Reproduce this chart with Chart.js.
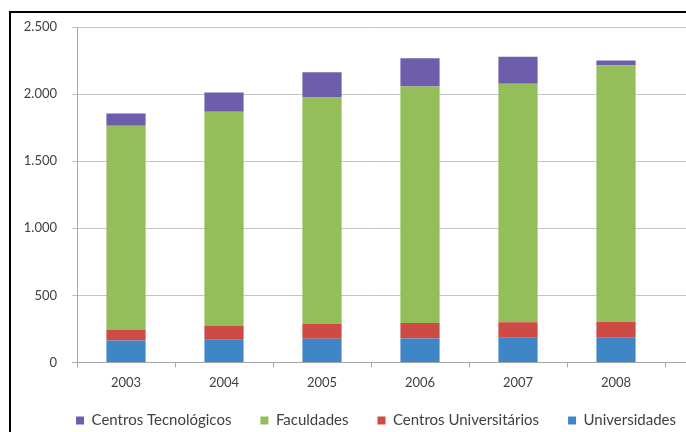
<!DOCTYPE html>
<html><head><meta charset="utf-8">
<script src="https://cdn.jsdelivr.net/npm/chart.js@4"></script>
<style>
html,body{margin:0;padding:0;width:686px;height:432px;overflow:hidden;background:#fff;}
#frame{position:absolute;left:9px;top:11px;width:900px;height:600px;border-left:2px solid #000;border-top:2px solid #000;}
#wrap{position:absolute;left:0;top:0;width:752px;height:453px;}
</style></head><body>
<div id="frame"></div>
<div id="wrap"><canvas id="c" width="752" height="453"></canvas></div>
<script>
const years = ['2003','2004','2005','2006','2007','2008'];
const universidades = [163,169,176,178,183,183];
const centrosUniversitarios = [78,105,111,115,117,120];
const faculdades = [1523,1594,1691,1764,1777,1911];
const centrosTecnologicos = [92,144,185,211,202,36];
const yTickLabels = ['0','500','1.000','1.500','2.000','2.500'];
const seriesNames = ['Universidades','Centros Universitários','Faculdades','Centros Tecnológicos'];
const seriesColors = ['#3f86c7','#cd4a45','#93be5a','#6e5dab'];

const extendGrid = {
  id:'extendGrid',
  beforeDatasetsDraw(chart){
    const {ctx, chartArea, scales:{y}} = chart;
    ctx.save(); ctx.lineWidth = 1;
    y.ticks.forEach(t => {
      const py = Math.round(y.getPixelForValue(t.value)) + 0.5;
      ctx.strokeStyle = t.value === 0 ? '#a6a6a6' : '#c4c4c4';
      ctx.beginPath(); ctx.moveTo(chartArea.right, py); ctx.lineTo(chart.width, py); ctx.stroke();
    });
    ctx.restore();
  }
};
const liftLegend = {
  id:'liftLegend',
  afterLayout(chart){
    const lg = chart.legend;
    if (lg) { lg.top -= 15; lg.bottom -= 15; }
  }
};

const font = {family:'Lato', size:13};
new Chart(document.getElementById('c'), {
  type:'bar',
  data:{
    labels: years,
    datasets: [universidades, centrosUniversitarios, faculdades, centrosTecnologicos].map((d,i)=>({
      label: seriesNames[i], data: d, backgroundColor: seriesColors[i], borderWidth:0,
      barPercentage:0.4, categoryPercentage:1.0
    }))
  },
  options:{
    responsive:false, animation:false, devicePixelRatio:1,
    layout:{padding:{top:27,left:0,right:0,bottom:0}},
    plugins:{
      tooltip:{enabled:false},
      legend:{position:'bottom', reverse:true,
        labels:{boxWidth:8, boxHeight:8, padding:29, color:'#404040', font:{family:'Lato', size:15}}}
    },
    scales:{
      x:{stacked:true,
        grid:{display:true, drawOnChartArea:false, drawTicks:true, tickLength:5, color:'#a6a6a6', offset:true},
        border:{display:true, color:'#a6a6a6'},
        ticks:{color:'#404040', font, padding:8, maxRotation:0}
      },
      y:{stacked:true, min:0, max:2500,
        grid:{color:(c)=> c.tick && c.tick.value===0 ? '#a6a6a6' : '#c4c4c4', drawTicks:true, tickLength:5},
        border:{display:true, color:'#a6a6a6'},
        ticks:{stepSize:500, color:'#404040', font, padding:15,
          callback:(v)=> yTickLabels[Math.round(v/500)]},
        afterFit(s){ s.width = 77; }
      },
      yr:{position:'right', display:true, grid:{display:false}, border:{display:false},
        ticks:{display:false}, afterFit(s){ s.width = 87; }}
    }
  },
  plugins:[extendGrid, liftLegend]
});
</script>
</body></html>
